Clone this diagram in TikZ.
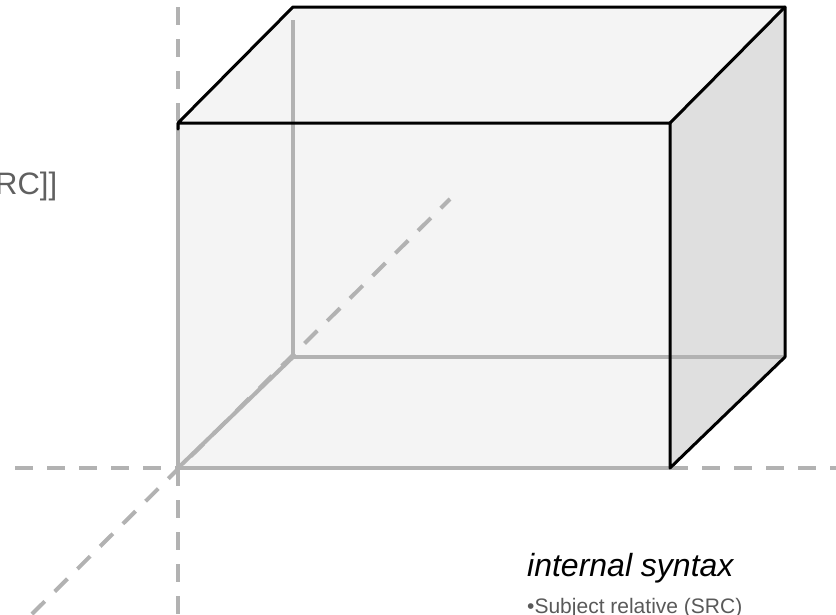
\documentclass[tikz,border=0pt]{standalone}
\usepackage{fontspec}
\setmainfont{Liberation Sans}
\begin{document}
\begin{tikzpicture}[x=1pt,y=-1pt,
  edge/.style={line width=3pt,black,line cap=round,line join=round},
  hidden/.style={line width=4pt,gray!60},
  axis/.style={line width=4pt,gray!60,dash pattern=on 18pt off 14pt},
  frontfill/.style={fill=gray!9},
  sidefill/.style={fill=gray!25},
  lbl/.style={inner sep=0pt,anchor=base west}]
\useasboundingbox (0,0) rectangle (836,614);
\clip (0,0) rectangle (836,614);
% corners
\coordinate (F1) at (178,123); \coordinate (F2) at (670,123);
\coordinate (F3) at (670,468); \coordinate (F4) at (178,468);
\coordinate (B1) at (293,7);   \coordinate (B2) at (785,7);
\coordinate (B3) at (785,357); \coordinate (B4) at (293,357);
\coordinate (B1a) at (293,20);
% fills
\fill[frontfill] (F1) -- (F2) -- (F3) -- (F4) -- cycle;
\fill[frontfill] (F1) -- (B1) -- (B2) -- (F2) -- cycle;
\fill[sidefill] (F2) -- (B2) -- (B3) -- (F3) -- cycle;
% axes
\coordinate (Vt) at (178,7); \coordinate (Vb) at (178,614);
\coordinate (Hl) at (15,468); \coordinate (Hr) at (836,468);
\coordinate (Dl) at (32,614); \coordinate (Dr) at (450,199);
\draw[axis] (Vt) -- (F1);
\draw[axis] (F4) -- (Vb);
\draw[axis] (Hl) -- (F4);
\draw[axis] (F3) -- (Hr);
\draw[axis] (Dl) -- (Dr);
% hidden edges
\draw[hidden] (F1) -- (F4) -- (F3);
\draw[hidden] (F4) -- (B4);
\draw[hidden] (B1a) -- (B4) -- (B3);
% visible edges
\draw[edge] (F4|-F1) ++(0,6) -- (F1) -- (F2) -- (F3) -- (B3) -- (B2) -- (B1) -- (F1);
\draw[edge] (F2) -- (B2);
% texts
\node[lbl,text=gray!75!black,font=\fontsize{31}{35}\selectfont] (t1) at (-5,194) {RC]]};
\node[lbl,font=\fontsize{32}{36}\itshape] (t2) at (527,576) {internal syntax};
\node[lbl,text=gray!70!black,font=\fontsize{21}{25}\selectfont] (t3) at (527,613) {\textbullet Subject relative (SRC)};
\end{tikzpicture}
\end{document}
